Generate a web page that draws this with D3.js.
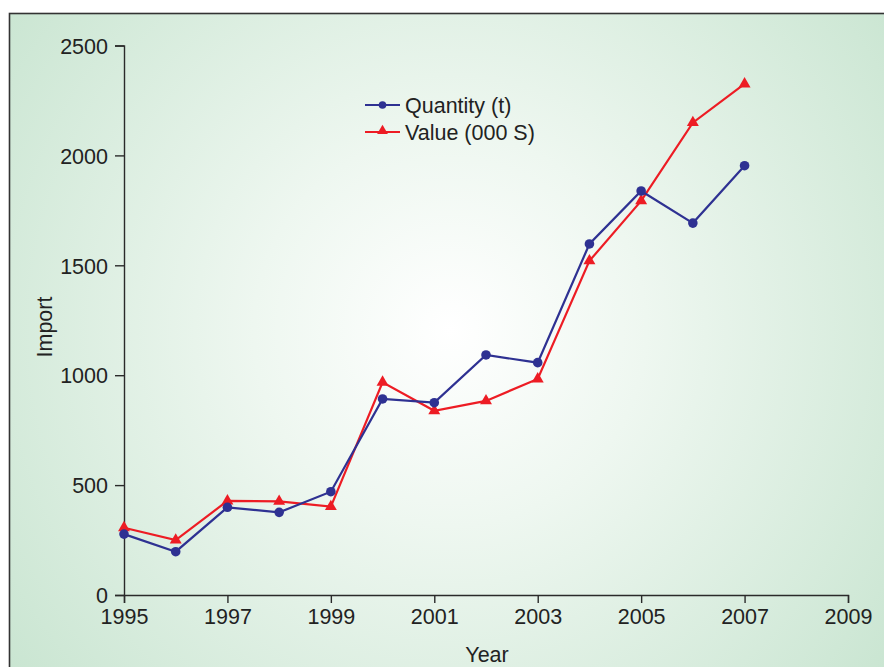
<!DOCTYPE html>
<html>
<head>
<meta charset="utf-8">
<script src="https://cdn.jsdelivr.net/npm/d3@7"></script>
<style>
  html, body { margin: 0; padding: 0; background: #ffffff; }
  svg { display: block; font-family: "Liberation Sans", Arial, Helvetica, sans-serif; }
</style>
</head>
<body>
<svg id="chart" width="884" height="667"></svg>
<script>
// Import of the product, 1995–2007
const years = [1995, 1996, 1997, 1998, 1999, 2000, 2001, 2002, 2003, 2004, 2005, 2006, 2007];
const quantity = [277, 197, 399, 376, 470, 892, 875, 1092, 1057, 1597, 1838, 1692, 1953];
const value = [306, 250, 428, 426, 402, 968, 838, 883, 983, 1520, 1793, 2149, 2325];
const xTicks = [1995, 1997, 1999, 2001, 2003, 2005, 2007, 2009];
const yTicks = [0, 500, 1000, 1500, 2000, 2500];
const seriesNames = ["Quantity (t)", "Value (000 S)"];

const W = 884, H = 667;
const svg = d3.select("#chart");

// background panel with soft radial fill
const defs = svg.append("defs");
const grad = defs.append("radialGradient")
  .attr("id", "bg")
  .attr("gradientUnits", "userSpaceOnUse")
  .attr("cx", 450).attr("cy", 330).attr("r", 560);
grad.append("stop").attr("offset", "0").attr("stop-color", "#ffffff");
grad.append("stop").attr("offset", "0.35").attr("stop-color", "#eef7f0");
grad.append("stop").attr("offset", "1").attr("stop-color", "#c9e5d1");

svg.append("rect")
  .attr("x", 9.5).attr("y", 13.5)
  .attr("width", W + 20).attr("height", H + 20)
  .attr("fill", "url(#bg)")
  .attr("stroke", "#333333")
  .attr("stroke-width", 1.6);

const x = d3.scaleLinear().domain([1995, 2009]).range([124, 848]);
const y = d3.scaleLinear().domain([0, 2500]).range([595, 45.5]);

const FS = "21.5px";

// axes
const xAxis = d3.axisBottom(x).tickValues(xTicks).tickFormat(d3.format("d"))
  .tickSize(8).tickSizeOuter(8).tickPadding(5);
const yAxis = d3.axisLeft(y).tickValues(yTicks).tickFormat(d3.format("d"))
  .tickSize(9).tickSizeOuter(9).tickPadding(7);

const gx = svg.append("g").attr("transform", `translate(0,${y(0)})`).call(xAxis);
const gy = svg.append("g").attr("transform", `translate(${x(1995)},0)`).call(yAxis);

[gx, gy].forEach(g => {
  g.selectAll("path, line").attr("stroke", "#2a2a2a").attr("stroke-width", 1.4);
  g.selectAll("text").attr("fill", "#222222").style("font-size", FS);
});
gy.selectAll("text").attr("dy", "0.36em");
gx.selectAll("text").attr("dy", "0.74em");

// axis titles
svg.append("text")
  .attr("x", x(2002) + 1).attr("y", 662)
  .attr("text-anchor", "middle")
  .attr("fill", "#222222")
  .style("font-size", FS)
  .text("Year");

svg.append("text")
  .attr("transform", `translate(52,327) rotate(-90)`)
  .attr("text-anchor", "middle")
  .attr("fill", "#222222")
  .style("font-size", FS)
  .text("Import");

const blue = "#2e3192", red = "#ed1c24";

const line = d3.line().x(d => x(d[0])).y(d => y(d[1]));
const qData = years.map((yr, i) => [yr, quantity[i]]);
const vData = years.map((yr, i) => [yr, value[i]]);

// value series (drawn first, quantity on top)
svg.append("path").datum(vData)
  .attr("d", line).attr("fill", "none")
  .attr("stroke", red).attr("stroke-width", 2.2);
svg.append("path").datum(qData)
  .attr("d", line).attr("fill", "none")
  .attr("stroke", blue).attr("stroke-width", 2.2);

const tri = d3.symbol().type(d3.symbolTriangle).size(62);
svg.append("g").selectAll("path").data(vData).join("path")
  .attr("d", tri)
  .attr("transform", d => `translate(${x(d[0])},${y(d[1])})`)
  .attr("fill", red);

svg.append("g").selectAll("circle").data(qData).join("circle")
  .attr("cx", d => x(d[0])).attr("cy", d => y(d[1]))
  .attr("r", 4.8).attr("fill", blue);

// legend
const legend = svg.append("g").attr("transform", "translate(365,105)");
const rows = [
  { name: seriesNames[0], color: blue, mark: "circle" },
  { name: seriesNames[1], color: red, mark: "triangle" }
];
rows.forEach((r, i) => {
  const g = legend.append("g").attr("transform", `translate(0,${i * 27})`);
  g.append("line").attr("x1", 0).attr("x2", 35).attr("y1", 0).attr("y2", 0)
    .attr("stroke", r.color).attr("stroke-width", 2);
  if (r.mark === "circle") {
    g.append("circle").attr("cx", 17.5).attr("cy", 0).attr("r", 3.8).attr("fill", r.color);
  } else {
    g.append("path").attr("d", d3.symbol().type(d3.symbolTriangle).size(50))
      .attr("transform", "translate(17.5,-1)").attr("fill", r.color);
  }
  g.append("text").attr("x", 40).attr("y", 0).attr("dy", "0.36em")
    .attr("fill", "#222222").style("font-size", FS).text(r.name);
});
</script>
</body>
</html>
